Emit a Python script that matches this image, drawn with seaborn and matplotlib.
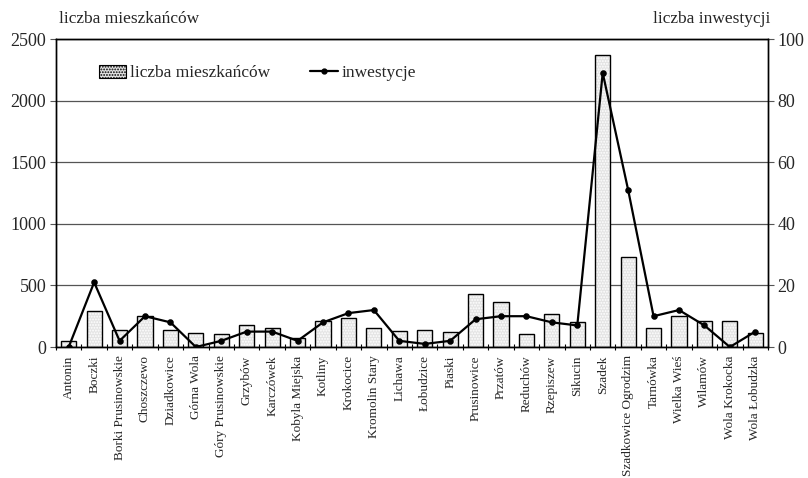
import matplotlib
matplotlib.use("Agg")
import matplotlib.pyplot as plt
import seaborn as sns
import pandas as pd
import numpy as np
from matplotlib.patches import Rectangle, Patch
from matplotlib.lines import Line2D

villages = ["Antonin", "Boczki", "Borki Prusinowskie", "Choszczewo", "Dziadkowice",
            "Górna Wola", "Góry Prusinowskie", "Grzybów", "Karczówek", "Kobyla Miejska",
            "Kotliny", "Krokocice", "Kromolin Stary", "Lichawa", "Łobudzice", "Piaski",
            "Prusinowice", "Przatów", "Reduchów", "Rzepiszew", "Sikucin", "Szadek",
            "Szadkowice Ogrodzim", "Tarnówka", "Wielka Wieś", "Wilamów", "Wola Krokocka",
            "Wola Łobudzka"]
residents = [50, 295, 136, 254, 139, 110, 107, 182, 155, 72, 211, 238, 155, 131,
             136, 125, 427, 366, 104, 264, 200, 2370, 727, 155, 248, 208, 211, 115]
investments = [0, 21, 2, 10, 8, 0, 2, 5, 5, 2, 8, 11, 12, 2, 1, 2, 9, 10, 10, 8, 7,
               89, 51, 10, 12, 7, 0, 5]
left_ticks = [0, 500, 1000, 1500, 2000, 2500]
right_ticks = [0, 20, 40, 60, 80, 100]

df = pd.DataFrame({"wies": villages, "mieszkancy": residents, "inwestycje": investments})

sns.set_theme(style="white")
plt.rcParams["font.family"] = ["Liberation Serif", "DejaVu Serif"]
plt.rcParams["hatch.color"] = "#8a8a8a"
plt.rcParams["hatch.linewidth"] = 0.9

fig = plt.figure(figsize=(8.08, 4.78), dpi=100)
ax = fig.add_axes([56 / 808, 1 - 347 / 478, (768 - 56) / 808, (347 - 39) / 478])

sns.barplot(data=df, x="wies", y="mieszkancy", order=villages, ax=ax,
            color="#e4e4e4", width=0.6, linewidth=0, saturation=1)
bars = list(ax.patches)
for p in bars:
    p.set_hatch("......")
    p.set_zorder(2)
    ax.add_patch(Rectangle((p.get_x(), p.get_y()), p.get_width(), p.get_height(),
                           fill=False, edgecolor="black", linewidth=1.0, zorder=3))

ax.set_ylim(0, 2500)
ax.set_yticks(left_ticks)
ax.set_yticklabels([str(t) for t in left_ticks], fontsize=13)
ax.yaxis.grid(True, color="#555555", linewidth=0.9)
ax.set_axisbelow(True)
ax.set_xlabel("")
ax.set_ylabel("")

ax2 = ax.twinx()
sns.pointplot(data=df, x="wies", y="inwestycje", order=villages, ax=ax2,
              color="black", markers="o", markersize=3.5, linewidth=1.6)
ax2.set_ylim(0, 100)
ax2.set_yticks(right_ticks)
ax2.set_yticklabels([str(t) for t in right_ticks], fontsize=13)
ax2.set_ylabel("")
ax2.set_xlabel("")
ax2.grid(False)

for a in (ax, ax2):
    a.set_xlim(-0.5, len(villages) - 0.5)
    for s in a.spines.values():
        s.set_color("black")
        s.set_linewidth(1.0)

ax.set_xticks(range(len(villages)))
ax.set_xticklabels(villages, rotation=90, fontsize=9.5, va="top", ha="center")
ax.set_xticks(np.arange(-0.5, len(villages), 1), minor=True)
ax.tick_params(axis="x", which="major", length=0, pad=6)
ax.tick_params(axis="x", which="minor", length=4, width=0.8, direction="inout", color="black", bottom=True)
ax.tick_params(axis="y", which="major", length=4, width=0.8, direction="out", color="#555555", left=True, pad=3)
ax2.tick_params(axis="y", which="major", length=4, width=0.8, direction="out", color="#555555", right=True, pad=3)
ax2.tick_params(axis="x", bottom=False, labelbottom=False)

fig.text(59 / 808, 1 - 19 / 478, "liczba mieszkańców", fontsize=12.5, ha="left", va="center")
fig.text(770 / 808, 1 - 19 / 478, "liczba inwestycji", fontsize=12.5, ha="right", va="center")

h1 = Patch(facecolor="#e4e4e4", edgecolor="black", hatch="......", linewidth=0.8)
h2 = Line2D([0], [0], color="black", marker="o", markersize=3.5, linewidth=1.6)
fig.legend([h1, h2], ["liczba mieszkańców", "inwestycje"], loc="center left",
           bbox_to_anchor=(90 / 808, 1 - 73 / 478), ncol=2, frameon=False,
           fontsize=12.5, handlelength=1.6, handleheight=0.8, handletextpad=0.2,
           columnspacing=2.3, borderpad=0)

fig.savefig("out.png", dpi=100)
